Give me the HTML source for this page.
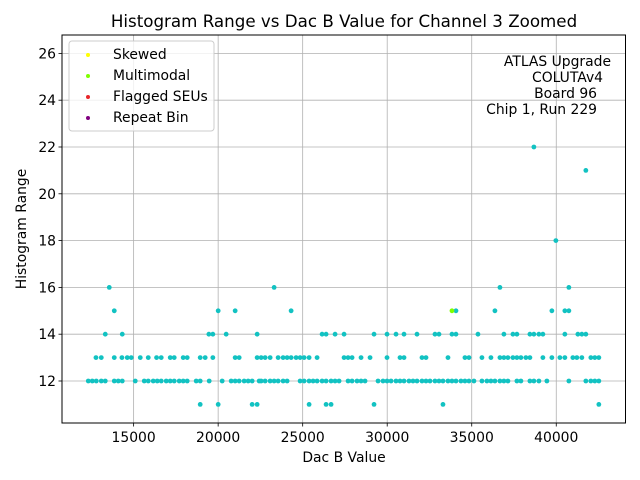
<!DOCTYPE html>
<html><head><meta charset="utf-8"><style>
body{margin:0;background:#fff}
svg{display:block;font-family:"DejaVu Sans","Liberation Sans",sans-serif}
</style></head><body>
<svg id="chart" width="640" height="480" xmlns="http://www.w3.org/2000/svg">
<rect width="640" height="480" fill="#fff"/>
<text x="344" y="27" font-size="16.7" text-anchor="middle">Histogram Range vs Dac B Value for Channel 3 Zoomed</text>
<g id="grid"></g>
<g id="points"></g>
<rect x="62" y="35" width="563.5" height="388" fill="none" stroke="#000" stroke-width="1"/>
<g id="ticks"></g>
<text x="344" y="462" font-size="13.9" text-anchor="middle">Dac B Value</text>
<text transform="translate(26,229) rotate(-90)" font-size="13.9" text-anchor="middle">Histogram Range</text>
<g>
<rect x="69" y="41" width="145" height="90" rx="3" fill="#fff" fill-opacity="0.8" stroke="#ccc"/>
<circle cx="88" cy="55" r="2" fill="#ffff00"/><text x="113" y="59" font-size="13.9">Skewed</text>
<circle cx="88" cy="76" r="2" fill="#7fff00"/><text x="113" y="80" font-size="13.9">Multimodal</text>
<circle cx="88" cy="97" r="2" fill="#e8262a"/><text x="113" y="101" font-size="13.9">Flagged SEUs</text>
<circle cx="88" cy="118" r="2" fill="#800080"/><text x="113" y="122" font-size="13.9">Repeat Bin</text>
</g>
<g font-size="13.9" text-anchor="end">
<text x="611" y="66">ATLAS Upgrade</text>
<text x="603" y="82">COLUTAv4</text>
<text x="597" y="98">Board 96</text>
<text x="597" y="114">Chip 1, Run 229</text>
</g>
</svg>
<script>
const xTicks=[15000,20000,25000,30000,35000,40000];
const yTicks=[12,14,16,18,20,22,24,26];
const row11=[18938,20002,22011,22306,25380,26384,26680,29221,33299,42519];
const row12=[12318,12555,12791,13087,13323,13855,14092,14328,15096,15628,15865,16160,16396,16633,16928,17165,17401,17697,17933,18169,18701,18938,19470,20238,20770,21006,21243,21538,21775,22011,22425,22543,22779,23075,23311,23548,23843,24079,24848,25084,25380,25616,25852,26148,26384,26680,26916,27153,27685,27921,28216,28453,28689,29458,29753,29989,30226,30521,30758,30994,31290,31526,31762,32058,32294,32531,32826,33063,33299,33595,33831,34067,34363,34599,34836,35131,35604,35899,36136,36372,36668,36904,37141,37672,37909,38441,38677,38973,39445,40746,41750,42046,42282,42519];
const row13=[12772,13087,13855,14308,14623,14860,15392,15865,16357,16633,17165,17401,17933,18169,18938,19233,19686,21006,21243,22306,22543,22779,23075,23548,23843,24079,24316,24611,24848,25084,25380,25852,27448,27685,27921,28453,28985,29989,30758,30994,32058,32294,33595,34599,34836,35604,36136,36668,36904,37141,37436,37672,37909,38204,38441,39209,39741,40214,40509,40982,41218,41514,42046,42282,42519];
const row14=[13323,14328,19450,19686,20474,22306,26148,26384,26916,27448,29221,29989,30521,30994,31762,32826,33063,33831,34067,35368,36904,37436,37672,38441,38677,38973,39209,40509,41278,41514,41750];
const row15=[13855,20002,21006,24316,34067,36372,39741,40509,40746];
const row16=[13560,23311,36668,40746];
const highX=[39977,41750,38677];
const highY=[18,21,22];
const multimodalX=[33831];
const multimodalY=[15];
const X0=10763,X1=44096,Y0=10.205,Y1=26.786;
const L=62,R=625.5,T=35,B=423;
const sx=v=>L+(v-X0)/(X1-X0)*(R-L);
const sy=v=>B-(v-Y0)/(Y1-Y0)*(B-T);
const NS="http://www.w3.org/2000/svg";
const grid=document.getElementById('grid'),ticks=document.getElementById('ticks'),pts=document.getElementById('points');
function mk(tag,attrs,parent){const e=document.createElementNS(NS,tag);for(const k in attrs)e.setAttribute(k,attrs[k]);parent.appendChild(e);return e;}
xTicks.forEach(t=>{
  const x=sx(t);
  const g=mk('line',{x1:x,x2:x,y1:T,y2:B,stroke:'#b0b0b0','stroke-width':0.8},grid);
  
  
  mk('line',{x1:x,x2:x,y1:B,y2:B+3.5,stroke:'#000','stroke-width':0.8},ticks);
  const tx=mk('text',{x:x,y:B+19,'font-size':13.9,'text-anchor':'middle'},ticks);
  tx.textContent=t;
  
  
});
yTicks.forEach(t=>{
  const y=sy(t);
  const g=mk('line',{x1:L,x2:R,y1:y,y2:y,stroke:'#b0b0b0','stroke-width':0.8},grid);
  
  
  mk('line',{x1:L-3.5,x2:L,y1:y,y2:y,stroke:'#000','stroke-width':0.8},ticks);
  const tx=mk('text',{x:L-6,y:y+5,'font-size':13.9,'text-anchor':'end'},ticks);
  tx.textContent=t;
  
  
});
const rows=[[11,row11],[12,row12],[13,row13],[14,row14],[15,row15],[16,row16]];
function dot(x,y,c){
  const p=mk('circle',{cx:sx(x),cy:sy(y),r:2.4,fill:c},pts);
  
  
}
rows.forEach(([yv,xs])=>xs.forEach(x=>dot(x,yv,'#12c2c2')));
highX.forEach((x,i)=>dot(x,highY[i],'#12c2c2'));
multimodalX.forEach((x,i)=>dot(x,multimodalY[i],'#7fff00'));
</script>
</body></html>
